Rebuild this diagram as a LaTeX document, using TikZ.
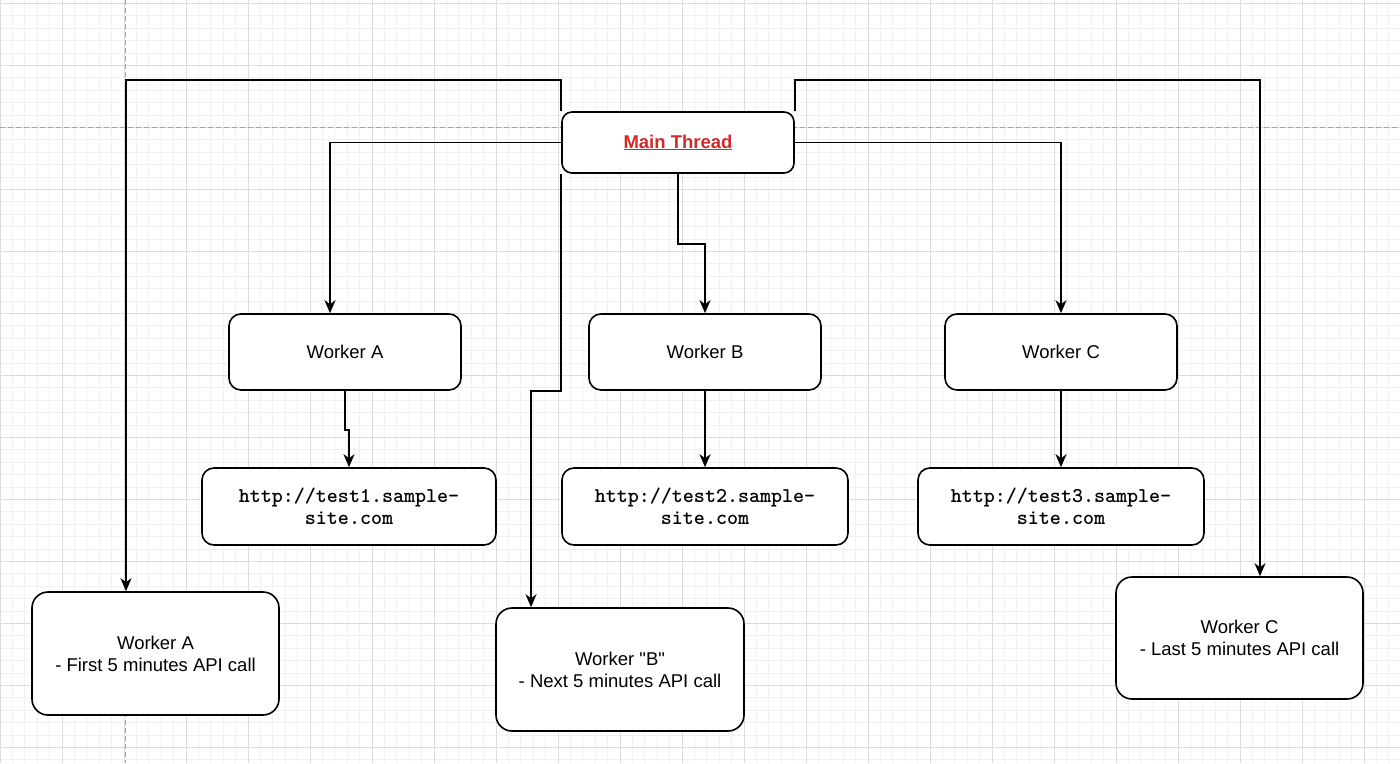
\documentclass[tikz,border=0pt]{standalone}
\usepackage{fontspec}
\setmainfont{Liberation Sans}
\usetikzlibrary{arrows.meta}
\definecolor{gridmajor}{RGB}{220,220,220}
\definecolor{gridminor}{RGB}{241,241,241}
\definecolor{pagebreak}{RGB}{165,165,165}
\definecolor{mainred}{RGB}{214,40,40}
\tikzset{
  box/.style={draw=black, line width=1.6pt, fill=white, rounded corners=12pt, inner sep=0pt, align=center,
    font=\fontsize{18.5}{22}\selectfont},
  urlbox/.style={box, font=\ttfamily\bfseries\fontsize{21}{22}\selectfont},
  bigbox/.style={box, rounded corners=16pt},
  arr/.style={draw=black, line width=1.8pt, -{Stealth[length=13pt,width=11pt,inset=4pt]}}
}
\begin{document}
\begin{tikzpicture}[x=1pt,y=-1pt]
\useasboundingbox (0,0) rectangle (1400,763);
\fill[white] (0,0) rectangle (1400,763);
% minor grid
\foreach \i in {0,...,113} \draw[gridminor, line width=1pt] (\i*12.4,0) -- (\i*12.4,763);
\foreach \j in {0,...,61} \draw[gridminor, line width=1pt] (0,3.5+\j*12.4) -- (1400,3.5+\j*12.4);
% major grid
\foreach \i in {0,...,22} \draw[gridmajor, line width=1pt] (\i*62,0) -- (\i*62,763);
\foreach \j in {0,...,12} \draw[gridmajor, line width=1pt] (0,3.5+\j*62) -- (1400,3.5+\j*62);
% page break lines
\draw[pagebreak, line width=1pt, dash pattern=on 5pt off 3pt] (125,0) -- (125,763);
\draw[pagebreak, line width=1pt, dash pattern=on 5pt off 3pt] (0,127.5) -- (1400,127.5);

% nodes
\node[box, rounded corners=10pt, minimum width=232pt, minimum height=61pt] (main) at (678,142.5)
  {\textcolor{mainred}{\underline{\textbf{Main Thread}}}};
\node[box, minimum width=232pt, minimum height=76pt] (wa) at (345,352) {Worker A};
\node[box, minimum width=232pt, minimum height=76pt] (wb) at (705,352) {Worker B};
\node[box, minimum width=232pt, minimum height=76pt] (wc) at (1061,352) {Worker C};
\node[urlbox, minimum width=294pt, minimum height=77pt] (u1) at (349,506.5) {http://test1.sample-\\site.com};
\node[urlbox, minimum width=286pt, minimum height=77pt] (u2) at (705,506.5) {http://test2.sample-\\site.com};
\node[urlbox, minimum width=286pt, minimum height=77pt] (u3) at (1061,506.5) {http://test3.sample-\\site.com};
\node[bigbox, minimum width=247pt, minimum height=123pt] (ba) at (155.5,653.5) {Worker A\\- First 5 minutes API call};
\node[bigbox, minimum width=248pt, minimum height=123pt] (bb) at (620,669.5) {Worker \textquotedbl B\textquotedbl\\- Next 5 minutes API call};
\node[bigbox, minimum width=247pt, minimum height=122pt] (bc) at (1239.5,638) {Worker C\\- Last 5 minutes API call};

% connectors
\draw[arr] (main.west) -| ([xshift=-15pt]wa.north);
\draw[arr] (main.east) -| (wc.north);
\draw[arr] (main.south) -- ++(0,70) -| (wb.north);
\draw[arr] (main.north west) -- ++(0,-31) -| ([xshift=-29.5pt]ba.north);
\draw[arr] (main.north east) -- ++(0,-31) -| ([xshift=20.5pt]bc.north);
\draw[arr] (main.south west) -- (main.south west |- wa.south) -| ([xshift=-89pt]bb.north);
\draw[arr] (wa.south) -- ++(0,39) -| (u1.north);
\draw[arr] (wb.south) -- (u2.north);
\draw[arr] (wc.south) -- (u3.north);
\end{tikzpicture}
\end{document}
